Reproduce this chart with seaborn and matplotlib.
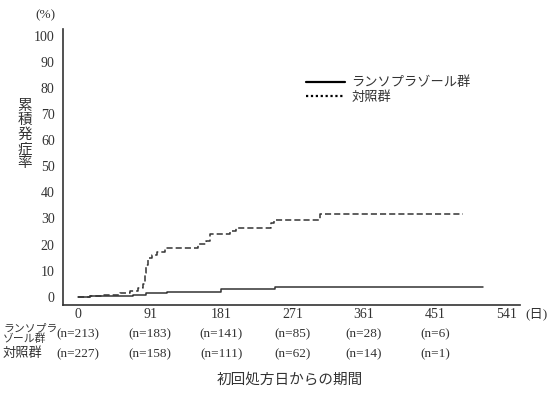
import pandas as pd
import matplotlib
matplotlib.use("Agg")
import matplotlib.pyplot as plt
import matplotlib.transforms as mtransforms
import seaborn as sns
from matplotlib.lines import Line2D

sns.set_style("white")
plt.rcParams['font.family'] = ['Liberation Serif', 'Noto Sans CJK JP', 'DejaVu Sans']

# Data
lanso_days = [0, 15, 32, 53, 70, 86, 112, 181, 249, 511]
lanso_rate = [0, 0.1, 0.2, 0.4, 0.6, 1.3, 1.9, 2.9, 3.6, 3.6]

control_days = [0, 15, 32, 53, 66, 76, 82, 84, 86, 88, 93, 100, 110,
                152, 161, 167, 192, 199, 244, 247, 306, 486]
control_rate = [0, 0.3, 0.7, 1.3, 2.0, 3.2, 5.0, 9.0, 12.3, 14.8, 15.8, 17.0, 18.7,
                20.3, 21.3, 23.9, 25.2, 26.5, 28.2, 29.6, 31.7, 31.7]

groups = ['ランソプラゾール群', '対照群']
x_ticks = [0, 91, 181, 271, 361, 451, 541]
risk_lanso = ['(n=213)', '(n=183)', '(n=141)', '(n=85)', '(n=28)', '(n=6)']
risk_control = ['(n=227)', '(n=158)', '(n=111)', '(n=62)', '(n=14)', '(n=1)']

df = pd.concat([
    pd.DataFrame({'day': lanso_days, 'rate': lanso_rate, 'group': groups[0]}),
    pd.DataFrame({'day': control_days, 'rate': control_rate, 'group': groups[1]}),
])

ink = '#333333'
W, H = 557, 395
fig = plt.figure(figsize=(W / 100, H / 100), dpi=100)
ax = fig.add_axes([63 / W, 1 - 305 / H, 457 / W, 276 / H])

sns.lineplot(data=df, x='day', y='rate', hue='group', style='group',
             palette={groups[0]: ink, groups[1]: ink},
             dashes={groups[0]: '', groups[1]: (4, 2)},
             drawstyle='steps-post', estimator=None, sort=False,
             linewidth=1.1, legend=False, ax=ax)

ax.set_xlim(-19, 558)
ax.set_ylim(-3.2, 102.7)
ax.set_xticks(x_ticks)
ax.set_yticks(range(0, 101, 10))
ax.tick_params(axis='y', direction='out', length=4, width=1, labelsize=10, colors=ink, pad=2)
ax.tick_params(axis='x', direction='in', length=5, width=1, labelsize=10, colors=ink, pad=2)
ax.set_xlabel('')
ax.set_ylabel('')
for side in ['top', 'right']:
    ax.spines[side].set_visible(False)
for side in ['left', 'bottom']:
    ax.spines[side].set_linewidth(1.2)
    ax.spines[side].set_color(ink)

handles = [Line2D([], [], color='black', lw=1.6, linestyle='-'),
           Line2D([], [], color='black', lw=1.6, linestyle=(0, (1, 1.2)))]
ax.legend(handles, groups, loc='upper left', bbox_to_anchor=(0.505, 0.87),
          frameon=False, handlelength=3, fontsize=9.5, labelspacing=0.15,
          handletextpad=0.45, labelcolor=ink)

# annotations
fig.text(45 / W, 1 - 15 / H, '(%)', ha='center', va='center', fontsize=9.5, color=ink)
fig.text(25 / W, 1 - 135 / H, '累\n積\n発\n症\n率', ha='center', va='center',
         fontsize=10.5, color=ink, linespacing=1.1)
fig.text(537 / W, 1 - 314 / H, '(日)', ha='center', va='center', fontsize=9.5, color=ink)

# number at risk table
tx = mtransforms.blended_transform_factory(ax.transData, fig.transFigure)
for xv, a, b in zip(x_ticks, risk_lanso, risk_control):
    ax.text(xv, 1 - 334 / H, a, transform=tx, ha='center', va='center', fontsize=9.5, color=ink)
    ax.text(xv, 1 - 354 / H, b, transform=tx, ha='center', va='center', fontsize=9.5, color=ink)
fig.text(3 / W, 1 - 334 / H, 'ランソプラ\nゾール群', ha='left', va='center',
         fontsize=7.8, color=ink, linespacing=1.0)
fig.text(3 / W, 1 - 354 / H, '対照群', ha='left', va='center', fontsize=9.5, color=ink)
fig.text(290 / W, 1 - 380 / H, '初回処方日からの期間', ha='center', va='center',
         fontsize=10.5, color=ink)

fig.savefig('out.png', dpi=100, facecolor='white')
